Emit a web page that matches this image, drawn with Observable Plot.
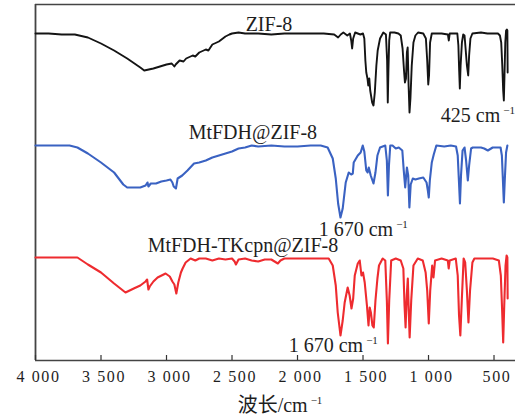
<!DOCTYPE html>
<html><head><meta charset="utf-8">
<script src="https://cdn.jsdelivr.net/npm/d3@7"></script>
<script src="https://cdn.jsdelivr.net/npm/@observablehq/plot@0.6"></script>
<style>
body{margin:0;background:#fff}
svg [aria-label="x-axis tick label"] text{letter-spacing:1.6px}
</style>
</head><body><div id="chart"></div>
<script>
// Tick labels (wavenumber, cm-1)
const xTicks = [4000, 3500, 3000, 2500, 2000, 1500, 1000, 500];

// Series names
const seriesNames = ["ZIF-8", "MtFDH@ZIF-8", "MtFDH-TKcpn@ZIF-8"];

// [wavenumber cm-1, transmittance (a.u., offset traces)]
const zif8 = [[4000,327],[3900,327],[3800,326],[3700,326],[3600,323],[3500,317],[3400,310],[3300,302],[3200,293],[3170,290],[3100,292],[3050,294],[3000,296],[2960,297],[2940,294],[2930,296],[2900,300],[2870,299],[2850,302],[2800,305],[2780,304],[2750,308],[2700,311],[2680,310],[2650,316],[2600,319],[2550,324],[2520,326],[2500,327],[2450,328],[2400,327],[2300,327],[2200,326],[2100,327],[2000,327],[1900,327],[1800,327],[1720,326],[1690,323],[1670,326],[1650,328],[1620,325],[1600,327],[1590,320],[1583,312],[1575,322],[1560,328],[1540,327],[1520,326],[1500,327],[1490,322],[1482,300],[1475,288],[1466,282],[1460,275],[1452,282],[1445,270],[1430,258],[1420,255],[1410,268],[1398,295],[1388,310],[1370,322],[1345,328],[1325,326],[1316,300],[1311,258],[1306,290],[1300,320],[1293,328],[1260,328],[1230,327],[1212,325],[1198,312],[1187,290],[1180,278],[1172,282],[1165,308],[1159,313],[1152,275],[1145,248],[1138,262],[1128,295],[1115,318],[1100,325],[1080,328],[1040,327],[1020,322],[1010,300],[1002,276],[996,285],[988,318],[975,327],[900,327],[852,326],[845,320],[838,327],[780,327],[772,315],[766,290],[761,272],[755,295],[745,318],[735,326],[725,325],[717,312],[707,295],[697,285],[690,305],[680,322],[665,327],[600,328],[550,327],[470,327],[455,325],[445,318],[437,295],[430,270],[425,260],[420,285],[414,318],[408,330],[402,331],[398,330],[396,288]];

const mtfdh = [[4000,215],[3900,215],[3800,215],[3740,215],[3680,213],[3600,207],[3500,198],[3400,188],[3330,176],[3300,173],[3250,173],[3200,173],[3160,175],[3145,178],[3138,174],[3120,177],[3080,177],[3040,179],[3000,180],[2970,181],[2955,178],[2945,174],[2928,172],[2915,182],[2880,185],[2840,190],[2790,197],[2750,198],[2700,200],[2650,203],[2600,205],[2550,207],[2500,209],[2450,212],[2400,213],[2350,215],[2300,214],[2200,215],[2100,214],[2000,214],[1900,215],[1823,215],[1770,213],[1731,202],[1708,182],[1690,157],[1672,143],[1655,152],[1632,178],[1609,188],[1590,186],[1578,187],[1571,198],[1540,205],[1518,208],[1502,215],[1490,209],[1475,190],[1465,188],[1456,193],[1441,185],[1420,177],[1405,188],[1390,205],[1370,213],[1330,215],[1318,200],[1310,165],[1302,195],[1292,215],[1275,215],[1250,212],[1227,213],[1200,210],[1189,190],[1178,173],[1165,193],[1155,185],[1146,153],[1136,176],[1120,182],[1100,181],[1074,182],[1040,183],[1015,178],[1005,170],[998,163],[990,180],[975,198],[960,206],[940,215],[880,214],[830,215],[790,214],[777,205],[768,180],[760,157],[752,185],[740,210],[725,213],[713,200],[700,180],[690,195],[675,212],[662,213],[600,213],[575,212],[547,210],[510,213],[450,213],[440,205],[432,180],[425,158],[418,180],[408,208],[398,215]];

const mtfdhTk = [[4000,103],[3900,103],[3800,103],[3680,103],[3600,96],[3500,88],[3400,77],[3313,68],[3250,72],[3200,75],[3160,79],[3148,81],[3138,71],[3128,74],[3100,79],[3068,83],[3007,87],[2975,84],[2955,79],[2940,76],[2925,67],[2910,78],[2890,88],[2877,92],[2854,98],[2816,102],[2780,100],[2750,102],[2700,102],[2650,100],[2600,102],[2550,101],[2500,102],[2480,99],[2470,96],[2450,101],[2400,102],[2350,100],[2300,99],[2250,101],[2200,101],[2150,97],[2130,100],[2100,102],[2000,102],[1900,102],[1823,102],[1762,102],[1731,95],[1708,75],[1693,48],[1672,25],[1655,40],[1640,58],[1617,73],[1602,65],[1588,52],[1575,62],[1563,85],[1540,97],[1525,100],[1512,85],[1500,88],[1487,78],[1470,55],[1458,35],[1449,53],[1440,48],[1428,35],[1418,33],[1405,60],[1390,82],[1378,95],[1350,102],[1330,100],[1318,60],[1310,17],[1300,60],[1285,100],[1250,102],[1212,100],[1192,92],[1183,55],[1175,33],[1166,65],[1158,82],[1151,50],[1144,23],[1132,60],[1115,95],[1082,102],[1044,100],[1022,88],[1010,70],[998,37],[987,70],[972,95],[962,83],[950,100],[900,102],[853,100],[846,92],[838,100],[792,102],[777,85],[767,45],[757,25],[746,60],[732,102],[720,98],[707,70],[695,38],[683,70],[665,98],[650,102],[550,102],[509,102],[463,100],[448,85],[438,50],[430,18],[422,55],[412,95],[404,105],[398,103],[396,62]];

const toRows = (name, pairs) => pairs.map(([wn, t]) => ({series: name, wn, t}));
const rows = [
  ...toRows(seriesNames[0], zif8),
  ...toRows(seriesNames[1], mtfdh),
  ...toRows(seriesNames[2], mtfdhTk)
];

const fmt = d => d >= 1000 ? `${Math.floor(d / 1000)} ${String(d % 1000).padStart(3, "0")}` : `${d}`;
const textStyle = {textAnchor: "start", lineAnchor: "bottom", fontSize: 20, fill: "#1e1e1e"};

const chart = Plot.plot({
  width: 515, height: 416,
  marginLeft: 35, marginRight: 0, marginTop: 4, marginBottom: 56,
  style: {fontFamily: "'Liberation Serif', 'Times New Roman', 'Noto Sans CJK SC', serif", background: "#fff", color: "#1e1e1e"},
  x: {domain: [4000, 336]},
  y: {domain: [0, 356], axis: null},
  color: {domain: seriesNames, range: ["#141414", "#3a62c2", "#ee2b2f"]},
  marks: [
    Plot.ruleX([4000], {stroke: "#444", strokeWidth: 1.8}),
    Plot.ruleY([0, 356], {stroke: "#444", strokeWidth: 1.6}),
    Plot.tickX(xTicks, {x: d => d, insetTop: 351, stroke: "#333", strokeWidth: 1.2}),
    Plot.axisX(xTicks, {tickSize: 0, tickPadding: 10, tickFormat: fmt, fontSize: 16, dx: 3, label: null, fill: "#1e1e1e"}),
    Plot.line(rows.filter(d => d.series === seriesNames[0]), {x: "wn", y: "t", stroke: "series", strokeWidth: 1.9, strokeLinejoin: "round"}),
    Plot.line(rows.filter(d => d.series === seriesNames[1]), {x: "wn", y: "t", stroke: "series", strokeWidth: 2.1, strokeLinejoin: "round"}),
    Plot.line(rows.filter(d => d.series === seriesNames[2]), {x: "wn", y: "t", stroke: "series", strokeWidth: 2.1, strokeLinejoin: "round"}),
    Plot.text([seriesNames[0]], {x: 2396, y: 330, text: d => d, ...textStyle}),
    Plot.text([seriesNames[1]], {x: 2831, y: 222, text: d => d, ...textStyle}),
    Plot.text([seriesNames[2]], {x: 3144, y: 109, text: d => d, ...textStyle}),
    Plot.text(["425 cm"], {x: 906, y: 239, text: d => d, ...textStyle}),
    Plot.text(["1 670 cm"], {x: 1838, y: 125, text: d => d, ...textStyle}),
    Plot.text(["1 670 cm"], {x: 2067, y: 9, text: d => d, ...textStyle}),
    Plot.text(["波长/cm"], {x: 2457, frameAnchor: "bottom", dy: 51, text: d => d, ...textStyle})
  ]
});

d3.select(chart).selectAll("text").each(function() {
  if (this.textContent.endsWith("cm")) {
    d3.select(this).append("tspan").attr("dx", 3).attr("dy", -8).attr("font-size", 11).text("−1");
  }
});

document.getElementById("chart").append(chart);
</script>
</body></html>
